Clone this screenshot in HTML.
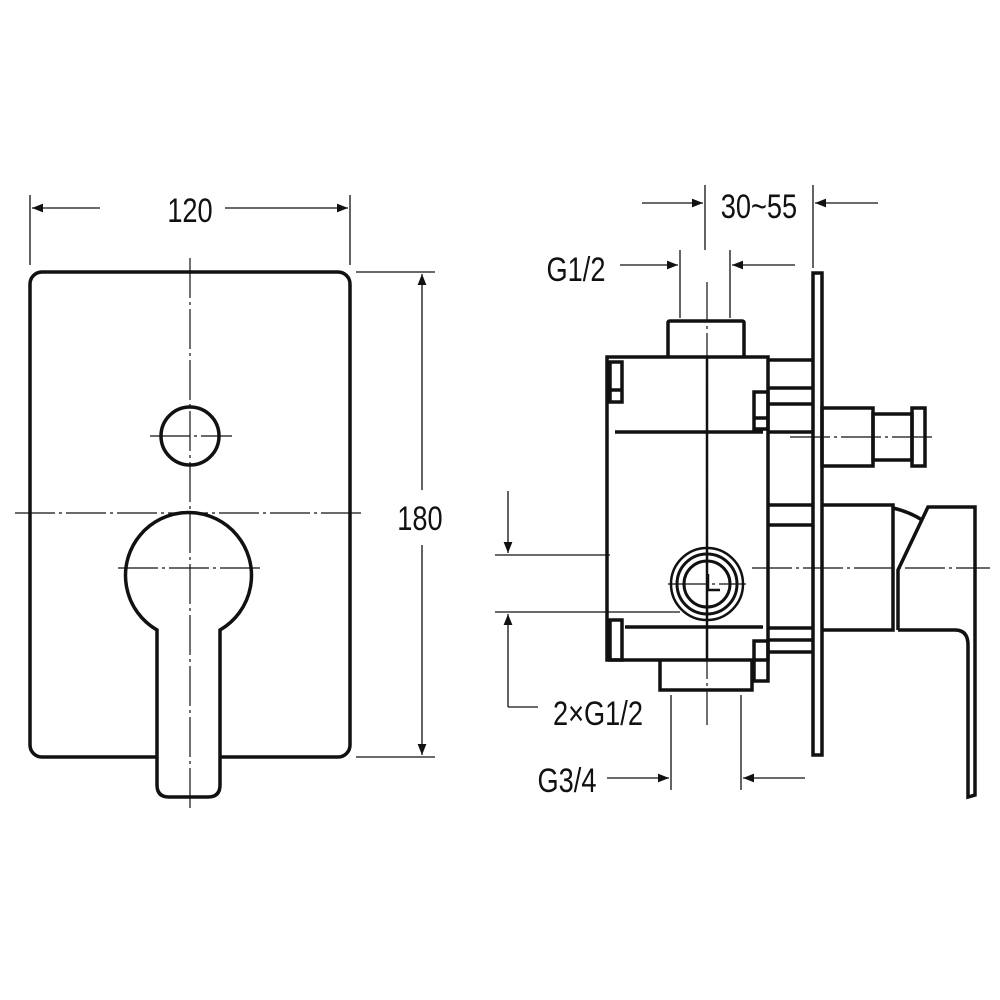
<!DOCTYPE html>
<html><head><style>
html,body{margin:0;padding:0;background:#fff;}
svg{display:block;}
text{font-family:"Liberation Sans",Arial,sans-serif;font-size:34px;fill:#111;}
</style></head><body>
<svg width="1000" height="1000" viewBox="0 0 1000 1000" xmlns="http://www.w3.org/2000/svg">
<defs>
<marker id="a" viewBox="0 0 10 10" refX="10" refY="5" markerWidth="30" markerHeight="11" markerUnits="userSpaceOnUse" orient="auto">
<path d="M0,1 L10,5 L0,9 Z" fill="#111"/></marker>
</defs>
<g fill="none" stroke="#111">
<!-- LEFT VIEW -->
<rect x="30" y="272" width="320" height="485" rx="12" stroke-width="3.5"/>
<circle cx="190" cy="436" r="29" stroke-width="3.5"/>
<path d="M157,630 A63,63 0 1 1 220,630 L220,785 Q220,797 208,797 L169,797 Q157,797 157,785 Z" fill="#fff" stroke-width="3.5"/>
<g stroke-width="1.2" stroke-dasharray="40,4,3,4">
<line x1="190" y1="258" x2="190" y2="812"/>
<line x1="15" y1="513" x2="362" y2="513"/>
<line x1="150" y1="436" x2="232" y2="436"/>
<line x1="118" y1="568" x2="262" y2="568"/>
</g>
<g stroke-width="1.3">
<line x1="30" y1="195" x2="30" y2="265"/>
<line x1="350" y1="195" x2="350" y2="265"/>
<line x1="100" y1="208" x2="32" y2="208" marker-end="url(#a)"/>
<line x1="225" y1="208" x2="348" y2="208" marker-end="url(#a)"/>
<line x1="356" y1="272" x2="435" y2="272"/>
<line x1="356" y1="757" x2="435" y2="757"/>
<line x1="422" y1="490" x2="422" y2="274" marker-end="url(#a)"/>
<line x1="422" y1="545" x2="422" y2="755" marker-end="url(#a)"/>
</g>
<!-- RIGHT VIEW -->
<g stroke-width="3.5">
<rect x="607" y="357" width="161" height="303"/>
<path d="M668,357 L668,323 Q668,321 670,321 L742,321 Q744,321 744,323 L744,357"/>
<path d="M660,660 L660,690 L752,690 L752,660"/>
<rect x="813" y="273" width="9" height="482"/>
<rect x="610" y="362" width="12" height="40"/>
<line x1="610" y1="390" x2="622" y2="390"/>
<rect x="754" y="392" width="14" height="37"/>
<line x1="754" y1="418" x2="768" y2="418"/>
<rect x="610" y="620" width="12" height="40"/>
<rect x="754" y="641" width="14" height="40"/>
<line x1="615" y1="432" x2="763" y2="432"/>
<line x1="625" y1="627" x2="763" y2="627"/>
<line x1="768" y1="360" x2="813" y2="360"/>
<line x1="768" y1="388" x2="813" y2="388"/>
<line x1="768" y1="404" x2="813" y2="404"/>
<line x1="768" y1="432" x2="813" y2="432"/>
<line x1="768" y1="505" x2="813" y2="505"/>
<line x1="768" y1="525" x2="813" y2="525"/>
<line x1="768" y1="628" x2="813" y2="628"/>
<line x1="768" y1="640" x2="813" y2="640"/>
<line x1="768" y1="652" x2="813" y2="652"/>
<rect x="822" y="408" width="51" height="58"/>
<rect x="873" y="414" width="39" height="46"/>
<rect x="912" y="408" width="13" height="58"/>
<path d="M822,505 L893,505 L893,630 L822,630"/>
<path d="M893,508 Q910,512 922,520"/>
<path d="M898,630 L898,570 L928,507 L975,507 L975,795 L968,797 L968,645 Q968,630 955,630 L898,630"/>
</g>
<circle cx="707" cy="584" r="36" stroke-width="2.5"/>
<circle cx="707" cy="584" r="30" stroke-width="3"/>
<circle cx="707" cy="584" r="23" stroke-width="3"/>
<path d="M708,574 L708,590 L720,590" stroke-width="2.5"/>
<line x1="707" y1="357" x2="707" y2="660" stroke-width="2.5"/>
<g stroke-width="1.2" stroke-dasharray="40,4,3,4">
<line x1="707" y1="282" x2="707" y2="725"/>
<line x1="668" y1="584" x2="746" y2="584"/>
<line x1="752" y1="568" x2="990" y2="568"/>
<line x1="790" y1="437" x2="935" y2="437"/>
</g>
<g stroke-width="1.3">
<line x1="705" y1="185" x2="705" y2="250"/>
<line x1="813" y1="185" x2="813" y2="268"/>
<line x1="642" y1="203" x2="703" y2="203" marker-end="url(#a)"/>
<line x1="878" y1="203" x2="815" y2="203" marker-end="url(#a)"/>
<line x1="680" y1="250" x2="680" y2="318"/>
<line x1="730" y1="250" x2="730" y2="318"/>
<line x1="620" y1="265" x2="678" y2="265" marker-end="url(#a)"/>
<line x1="795" y1="265" x2="732" y2="265" marker-end="url(#a)"/>
<line x1="495" y1="555" x2="610" y2="555"/>
<line x1="495" y1="612" x2="680" y2="612"/>
<line x1="508" y1="491" x2="508" y2="553" marker-end="url(#a)"/>
<line x1="508" y1="707" x2="508" y2="614" marker-end="url(#a)"/>
<line x1="508" y1="707" x2="538" y2="707"/>
<line x1="671" y1="695" x2="671" y2="790"/>
<line x1="741" y1="695" x2="741" y2="790"/>
<line x1="607" y1="778" x2="669" y2="778" marker-end="url(#a)"/>
<line x1="805" y1="778" x2="743" y2="778" marker-end="url(#a)"/>
</g>
</g>
<g>
<text x="190" y="222" text-anchor="middle" transform="translate(190 0) scale(0.8 1) translate(-190 0)">120</text>
<text x="420" y="530" text-anchor="middle" transform="translate(420 0) scale(0.8 1) translate(-420 0)">180</text>
<text x="759" y="218" text-anchor="middle" transform="translate(759 0) scale(0.8 1) translate(-759 0)">30~55</text>
<text x="576" y="281" text-anchor="middle" transform="translate(576 0) scale(0.8 1) translate(-576 0)">G1/2</text>
<text x="598" y="725" text-anchor="middle" transform="translate(598 0) scale(0.8 1) translate(-598 0)">2×G1/2</text>
<text x="567" y="792" text-anchor="middle" transform="translate(567 0) scale(0.8 1) translate(-567 0)">G3/4</text>
</g>
</svg>
</body></html>
